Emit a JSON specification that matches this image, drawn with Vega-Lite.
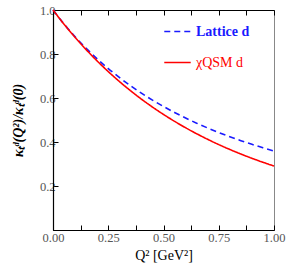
{
  "$schema": "https://vega.github.io/schema/vega-lite/v6.json",
  "width": 221,
  "height": 220,
  "autosize": "none",
  "padding": {"left": 53, "top": 10, "right": 16, "bottom": 41},
  "config": {
    "view": {"stroke": "#888888", "strokeWidth": 1},
    "font": "Liberation Serif",
    "axis": {"grid": false, "domainColor": "#000000", "domainWidth": 1.2, "tickColor": "#000000", "tickWidth": 1, "labelColor": "#555555", "labelFont": "Liberation Serif", "labelFontSize": 12.5, "titleFont": "Liberation Serif", "titleColor": "#000000"}
  },
  "data": {
    "values": [
      {"q2": 0.00, "v": 1.0000, "s": "Lattice d"},
      {"q2": 0.05, "v": 0.9363, "s": "Lattice d"},
      {"q2": 0.10, "v": 0.8785, "s": "Lattice d"},
      {"q2": 0.15, "v": 0.8258, "s": "Lattice d"},
      {"q2": 0.20, "v": 0.7778, "s": "Lattice d"},
      {"q2": 0.25, "v": 0.7338, "s": "Lattice d"},
      {"q2": 0.30, "v": 0.6935, "s": "Lattice d"},
      {"q2": 0.35, "v": 0.6564, "s": "Lattice d"},
      {"q2": 0.40, "v": 0.6222, "s": "Lattice d"},
      {"q2": 0.45, "v": 0.5906, "s": "Lattice d"},
      {"q2": 0.50, "v": 0.5614, "s": "Lattice d"},
      {"q2": 0.55, "v": 0.5342, "s": "Lattice d"},
      {"q2": 0.60, "v": 0.5090, "s": "Lattice d"},
      {"q2": 0.65, "v": 0.4856, "s": "Lattice d"},
      {"q2": 0.70, "v": 0.4637, "s": "Lattice d"},
      {"q2": 0.75, "v": 0.4433, "s": "Lattice d"},
      {"q2": 0.80, "v": 0.4241, "s": "Lattice d"},
      {"q2": 0.85, "v": 0.4062, "s": "Lattice d"},
      {"q2": 0.90, "v": 0.3895, "s": "Lattice d"},
      {"q2": 0.95, "v": 0.3737, "s": "Lattice d"},
      {"q2": 1.00, "v": 0.3588, "s": "Lattice d"},
      {"q2": 0.00, "v": 1.0000, "s": "χQSM d"},
      {"q2": 0.05, "v": 0.9354, "s": "χQSM d"},
      {"q2": 0.10, "v": 0.8755, "s": "χQSM d"},
      {"q2": 0.15, "v": 0.8199, "s": "χQSM d"},
      {"q2": 0.20, "v": 0.7681, "s": "χQSM d"},
      {"q2": 0.25, "v": 0.7201, "s": "χQSM d"},
      {"q2": 0.30, "v": 0.6753, "s": "χQSM d"},
      {"q2": 0.35, "v": 0.6337, "s": "χQSM d"},
      {"q2": 0.40, "v": 0.5950, "s": "χQSM d"},
      {"q2": 0.45, "v": 0.5589, "s": "χQSM d"},
      {"q2": 0.50, "v": 0.5253, "s": "χQSM d"},
      {"q2": 0.55, "v": 0.4940, "s": "χQSM d"},
      {"q2": 0.60, "v": 0.4648, "s": "χQSM d"},
      {"q2": 0.65, "v": 0.4375, "s": "χQSM d"},
      {"q2": 0.70, "v": 0.4121, "s": "χQSM d"},
      {"q2": 0.75, "v": 0.3883, "s": "χQSM d"},
      {"q2": 0.80, "v": 0.3661, "s": "χQSM d"},
      {"q2": 0.85, "v": 0.3454, "s": "χQSM d"},
      {"q2": 0.90, "v": 0.3260, "s": "χQSM d"},
      {"q2": 0.95, "v": 0.3078, "s": "χQSM d"},
      {"q2": 1.00, "v": 0.2908, "s": "χQSM d"}
    ]
  },
  "resolve": {"axis": {"x": "independent"}},
  "layer": [
    {
      "mark": {"type": "line", "strokeWidth": 1.6, "interpolate": "monotone"},
      "encoding": {
        "x": {"field": "q2", "type": "quantitative", "scale": {"domain": [0, 1], "nice": false},
          "axis": {"orient": "bottom", "values": [0, 0.125, 0.25, 0.375, 0.5, 0.625, 0.75, 0.875, 1], "labelExpr": "(datum.value * 4) % 1 == 0 ? format(datum.value, '.2f') : ''", "tickSize": -5, "labelPadding": 6, "labelFlush": false, "title": "Q² [GeV²]", "titleFontSize": 14, "titleFontWeight": "normal", "titlePadding": 5}},
        "y": {"field": "v", "type": "quantitative", "scale": {"domain": [0, 1], "nice": false},
          "axis": {"values": [0, 0.2, 0.4, 0.6, 0.8, 1.0], "labelExpr": "datum.value == 0 ? '' : format(datum.value, '.1f')", "tickSize": -5, "labelPadding": 3, "labelFlush": false, "title": "κₜᵈ(Q²)/κₜᵈ(0)", "titleFontSize": 14, "titleFontWeight": "bold", "titleFontStyle": "italic", "titlePadding": 14}},
        "color": {"field": "s", "type": "nominal", "scale": {"domain": ["Lattice d", "χQSM d"], "range": ["#1a1aff", "#ff0000"]},
          "legend": {"orient": "none", "legendX": 110, "legendY": 7, "title": null, "symbolType": "stroke", "symbolSize": 700, "symbolStrokeWidth": 1.6, "labelFontSize": 14, "labelFont": "Liberation Serif", "labelOffset": 4, "rowPadding": 9,
            "encode": {"labels": {"update": {"fill": {"signal": "datum.value == 'Lattice d' ? '#1a1aff' : '#ff0000'"}, "fontWeight": {"signal": "datum.value == 'Lattice d' ? 'bold' : 'normal'"}}}}}},
        "strokeDash": {"field": "s", "type": "nominal", "scale": {"domain": ["Lattice d", "χQSM d"], "range": [[6, 4], [1, 0]]}, "legend": null}
      }
    },
    {
      "mark": {"type": "line", "strokeWidth": 0, "opacity": 0},
      "encoding": {
        "x": {"field": "q2", "type": "quantitative", "scale": {"domain": [0, 1], "nice": false},
          "axis": {"orient": "top", "values": [0, 0.125, 0.25, 0.375, 0.5, 0.625, 0.75, 0.875, 1], "labels": false, "tickSize": -5, "title": null}},
        "y": {"field": "v", "type": "quantitative"},
        "detail": {"field": "s"}
      }
    }
  ]
}
